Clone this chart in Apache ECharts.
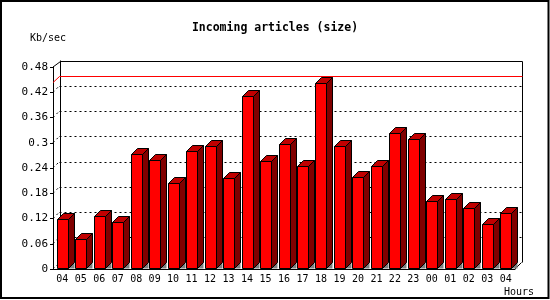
<!DOCTYPE html>
<html>
<head>
<meta charset="utf-8">
<script src="https://cdn.jsdelivr.net/npm/echarts@6/dist/echarts.min.js"></script>
<style>
html,body{margin:0;padding:0;background:#fff;}
#chart{width:550px;height:300px;}
</style>
</head>
<body>
<div id="chart"></div>
<script>
// hours of the day, oldest first
var hours = ['04','05','06','07','08','09','10','11','12','13','14','15','16','17','18','19','20','21','22','23','00','01','02','03','04'];
// incoming size, Kb/sec
var kbps = [0.119,0.072,0.126,0.112,0.273,0.259,0.204,0.280,0.293,0.217,0.410,0.257,0.297,0.245,0.443,0.293,0.219,0.245,0.323,0.309,0.162,0.166,0.145,0.107,0.133];
var yTicks = [0,0.06,0.12,0.18,0.24,0.3,0.36,0.42,0.48];

var FONT = 'DejaVu Sans Mono';
var DEPTH = 6;   // bar depth
var WALL = 6.5;  // back wall offset
var peak = Math.max.apply(null, kbps);

function crisp(v){ return Math.round(v) + 0.5; }

function renderBar(params, api) {
  var i = api.value(0);
  var top = api.coord([i, api.value(1)]);
  var base = api.coord([i, 0]);
  var w = 11, d = DEPTH;
  var xl = crisp(top[0] - w / 2), xr = xl + w;
  var yt = crisp(top[1]), y0 = crisp(base[1]) - 1;
  return {
    type: 'group',
    children: [
      {type:'polygon', shape:{points:[[xr,y0],[xr+d,y0-d],[xr+d,y0]]}, style:{fill:'#808080'}},
      {type:'polygon', shape:{points:[[xr,yt],[xr+d,yt-d],[xr+d,y0-d],[xr,y0]]}, style:{fill:'#800000', stroke:'#000', lineWidth:1}},
      {type:'polygon', shape:{points:[[xl,yt],[xl+d,yt-d],[xr+d,yt-d],[xr,yt]]}, style:{fill:'#c00000', stroke:'#000', lineWidth:1}},
      {type:'rect', shape:{x:xl, y:yt, width:w, height:y0-yt}, style:{fill:'#ff0000', stroke:'#000', lineWidth:1}}
    ]
  };
}

function renderWall(params, api) {
  var cs = params.coordSys;
  var x0 = cs.x, x1 = cs.x + cs.width;
  var ytop = cs.y, yb = cs.y + cs.height;
  var o = WALL;
  var kids = [];
  var dotted = {stroke:'#000', lineWidth:1, lineDash:[2,3]};
  for (var k = 0; k < yTicks.length; k++) {
    var v = yTicks[k];
    if (v >= 0.48) continue;
    var y = api.coord([0, v])[1];
    if (v > 0) {
      kids.push({type:'line', shape:{x1:x0+o, y1:crisp(y-o), x2:x1+o, y2:crisp(y-o)}, style:dotted});
    }
    kids.push({type:'line', shape:{x1:x0, y1:y, x2:x0+o, y2:y-o}, style:dotted});
  }
  kids.push({type:'polyline', shape:{points:[[x0,ytop],[crisp(x0+o),crisp(ytop-o)],[crisp(x1+o),crisp(ytop-o)],[crisp(x1+o),yb-o]]}, style:{stroke:'#000', lineWidth:1, fill:null}});
  kids.push({type:'line', shape:{x1:crisp(x0+o), y1:ytop-o, x2:crisp(x0+o), y2:yb-o}, style:{stroke:'#000', lineWidth:1}});
  kids.push({type:'line', shape:{x1:x1, y1:yb, x2:x1+o, y2:yb-o}, style:{stroke:'#000', lineWidth:1}});
  var ym = api.coord([0, peak])[1];
  kids.push({type:'polyline', shape:{points:[[x0,ym],[x0+o,crisp(ym-o)],[crisp(x1+o),crisp(ym-o)]]}, style:{stroke:'#ff0000', lineWidth:1, fill:null}});
  return {type:'group', children:kids};
}

var chart = echarts.init(document.getElementById('chart'));
chart.setOption({
  backgroundColor: '#fff',
  animation: false,
  title: {
    text: 'Incoming articles (size)',
    left: 'center',
    top: 22,
    padding: 0,
    textStyle: {fontFamily: FONT, fontWeight: 'bold', fontSize: 11.5, color: '#000'}
  },
  grid: {left: 53, top: 67, right: 35, bottom: 31},
  xAxis: {
    type: 'category',
    data: hours,
    axisLine: {lineStyle: {color: '#000', width: 1}},
    axisTick: {length: 4, lineStyle: {color: '#000'}},
    axisLabel: {interval: 0, margin: 5, color: '#000', fontFamily: FONT, fontSize: 10}
  },
  yAxis: {
    type: 'value',
    min: 0,
    max: 0.48,
    interval: 0.06,
    axisLine: {show: true, lineStyle: {color: '#000', width: 1}},
    axisTick: {show: true, length: 3, lineStyle: {color: '#000'}},
    axisLabel: {margin: 5, color: '#000', fontFamily: FONT, fontSize: 11},
    splitLine: {show: false}
  },
  graphic: [
    {type:'rect', shape:{x:1, y:1, width:547.5, height:297}, style:{fill:null, stroke:'#000', lineWidth:2}, z:100},
    {type:'text', x:30, y:38.5, style:{text:'Kb/sec', fill:'#000', font:'10px "DejaVu Sans Mono"', verticalAlign:'middle'}},
    {type:'text', x:504, y:292, style:{text:'Hours', fill:'#000', font:'10px "DejaVu Sans Mono"', verticalAlign:'middle'}}
  ],
  series: [
    {type:'custom', renderItem: renderWall, data: [[0, 0]], z: 1, silent: true},
    {type:'custom', renderItem: renderBar, data: kbps.map(function(v, i){ return [i, v]; }), z: 2, silent: true}
  ]
});
</script>
</body>
</html>
